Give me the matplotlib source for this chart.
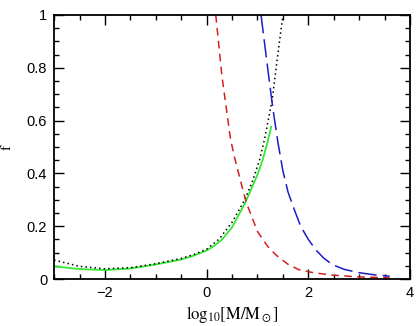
import matplotlib
matplotlib.use('Agg')
import matplotlib.pyplot as plt
from matplotlib.ticker import MultipleLocator, FuncFormatter

# values
red_x = [0.18, 0.30, 0.47, 0.55, 0.71, 0.78, 1.00, 1.20, 1.37, 1.60, 1.82, 2.10, 2.47, 3.00, 3.60]
red_f = [1.00, 0.77, 0.53, 0.46, 0.34, 0.29, 0.18, 0.124, 0.09, 0.056, 0.035, 0.024, 0.015, 0.008, 0.005]

blue_x = [1.07, 1.20, 1.30, 1.40, 1.50, 1.60, 1.73, 1.85, 2.00, 2.15, 2.30, 2.47, 2.70, 3.00, 3.30, 3.60]
blue_f = [1.00, 0.80, 0.65, 0.52, 0.41, 0.33, 0.26, 0.20, 0.15, 0.11, 0.08, 0.055, 0.037, 0.024, 0.016, 0.011]

dot_x = [-3.0, -2.5, -2.0, -1.5, -1.0, -0.5, -0.25, 0.0, 0.25, 0.5, 0.75, 0.9, 1.04, 1.14, 1.29, 1.40, 1.50]
dot_f = [0.072, 0.048, 0.039, 0.043, 0.058, 0.078, 0.093, 0.113, 0.152, 0.215, 0.300, 0.370, 0.450, 0.530, 0.680, 0.850, 1.000]

green_x = [-3.0, -2.5, -2.0, -1.5, -1.0, -0.5, -0.25, 0.0, 0.15, 0.3, 0.5, 0.75, 1.0, 1.1, 1.2, 1.27]
green_f = [0.048, 0.038, 0.034, 0.040, 0.055, 0.074, 0.089, 0.108, 0.126, 0.149, 0.196, 0.285, 0.395, 0.450, 0.520, 0.577]

plt.rcParams['font.family'] = ['Liberation Sans', 'DejaVu Sans']
plt.rcParams['mathtext.fontset'] = 'stix'

fig = plt.figure(figsize=(4.16, 3.26), dpi=100)
ax = fig.add_axes([0.13, 0.144, 0.8556, 0.81])

ax.plot(green_x, green_f, color='#33e833', lw=1.3)
ax.plot(dot_x, dot_f, color='black', lw=1.1, linestyle=(0, (1, 2)))
ax.plot(red_x, red_f, color='#d42020', lw=1.1, linestyle=(0, (5, 3.5)))
ax.plot(blue_x, blue_f, color='#1c1cc8', lw=1.1, linestyle=(0, (12, 4)))

ax.set_xlim(-3, 4)
ax.set_ylim(0, 1)
ax.xaxis.set_major_locator(MultipleLocator(2))
ax.xaxis.set_minor_locator(MultipleLocator(0.5))
ax.yaxis.set_major_locator(MultipleLocator(0.2))
ax.yaxis.set_minor_locator(MultipleLocator(0.05))
ax.xaxis.set_major_formatter(FuncFormatter(lambda v, p: '%g' % v if v >= 0 else '\u2212%g' % -v))
ax.yaxis.set_major_formatter(FuncFormatter(lambda v, p: '%g' % round(v, 2)))

ax.tick_params(which='both', direction='in', top=True, right=True, labelsize=10.5, width=1.0)
ax.tick_params(which='major', length=7, pad=5)
ax.tick_params(which='minor', length=3.5)
for s in ax.spines.values():
    s.set_linewidth(1.3)

ax.set_xlabel(r'$\mathrm{log_{10}[M/M_\odot]}$', fontsize=12, labelpad=3)
ax.set_ylabel(r'$\mathrm{f}$', fontsize=11)
ax.yaxis.set_label_coords(-0.112, 0.5)

plt.savefig('out.png', dpi=100)
